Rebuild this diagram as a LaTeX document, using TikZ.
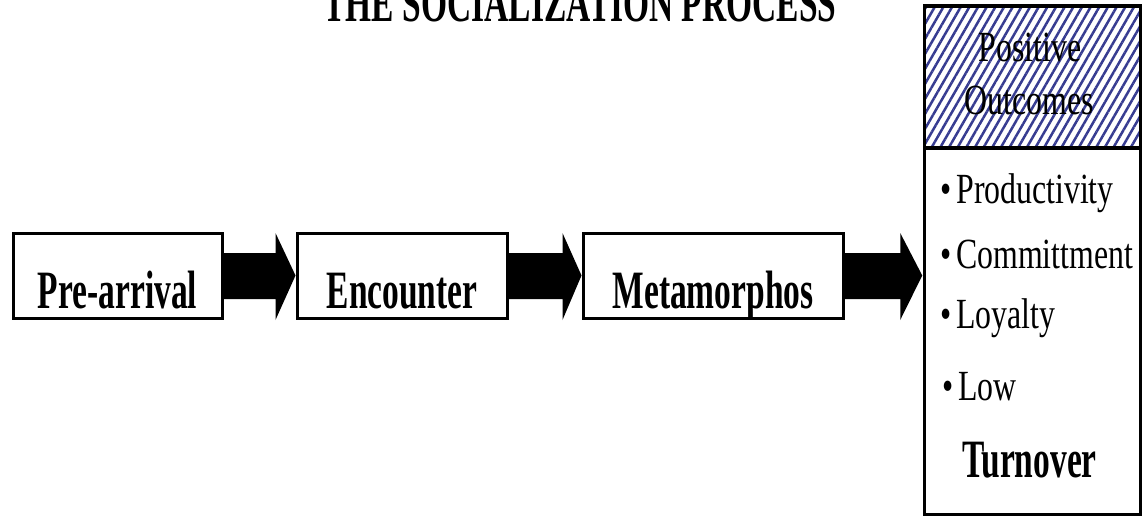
\documentclass[tikz,border=0pt]{standalone}
\usepackage{fontspec}
\setmainfont{Liberation Serif}
\newfontfamily\regf[FakeStretch=0.74]{Liberation Serif}
\newfontfamily\boldf[FakeStretch=0.62]{Liberation Serif}
\usetikzlibrary{patterns.meta,calc}
\definecolor{hatch}{RGB}{55,60,145}
\tikzset{
  stagebox/.style={draw, line width=3pt, minimum width=#1, minimum height=85pt, inner sep=0pt},
  boldtxt/.style={font=\boldf\bfseries\fontsize{54}{60}\selectfont, anchor=base, inner sep=0pt},
  regtxt/.style={font=\regf\fontsize{43}{48}\selectfont, anchor=base west, inner sep=0pt},
  bigarrow/.style={fill=black},
}
\newcommand\stagearrow[3]{%
  \fill[bigarrow] ($(#1)+(0,-22.5)$) -- ($(#2)+(-#3,-22.5)$) -- ($(#2)+(-#3,-42.5)$) -- (#2)
    -- ($(#2)+(-#3,44.5)$) -- ($(#2)+(-#3,23.5)$) -- ($(#1)+(0,23.5)$) -- cycle;}
\begin{document}
\begin{tikzpicture}[x=1pt,y=-1pt]
\useasboundingbox[fill=white] (0,0) rectangle (1142,516);

% title
\node[boldtxt] (title) at (580,22) {THE SOCIALIZATION PROCESS};

% stage boxes
\node[stagebox=209pt] (pre) at (117.5,275.5) {};
\node[stagebox=210pt] (enc) at (402,275.5) {};
\node[stagebox=260pt] (met) at (713,275.5) {};
\node[boldtxt] (pret) at ($(pre.center)+(0,32.5)$) {Pre-arrival};
\node[boldtxt] (enct) at ($(enc.center)+(0,32.5)$) {Encounter};
\node[boldtxt] (mett) at ($(met.center)+(0,32.5)$) {Metamorphos};

% outcome box
\node[line width=3.5pt, minimum width=213pt, minimum height=505pt, inner sep=0pt] (out) at (1032.5,260.5) {};
\fill[pattern={Lines[angle=60,distance=7.5pt,line width=2.5pt]}, pattern color=hatch]
  (out.north west) rectangle (out.east |- 0,148);
\draw[line width=4pt] (out.west |- 0,148) -- (out.east |- 0,148);
\draw[line width=3.5pt] (out.north west) rectangle (out.south east);

\node[regtxt, anchor=base] (pos) at (1030,62) {Positive};
\node[regtxt, anchor=base] (outc) at (1029,115) {Outcomes};
\node[regtxt] (l1) at (940,203) {\textbullet\kern5pt Productivity};
\node[regtxt] (l2) at (940,268) {\textbullet\kern5pt Committment};
\node[regtxt] (l3) at (940,328) {\textbullet\kern5pt Loyalty};
\node[regtxt] (l4) at (942,400) {\textbullet\kern5pt Low};
\node[boldtxt, anchor=base west] (l5) at (962,477) {Turnover};

% arrows
\coordinate (t1) at (enc.west);
\coordinate (t2) at (met.west);
\coordinate (t3) at ($(out.west |- met.east)+(-2,0)$);
\stagearrow{pre.east}{t1}{20}
\stagearrow{enc.east}{t2}{19}
\stagearrow{met.east}{t3}{22}
\end{tikzpicture}
\end{document}
